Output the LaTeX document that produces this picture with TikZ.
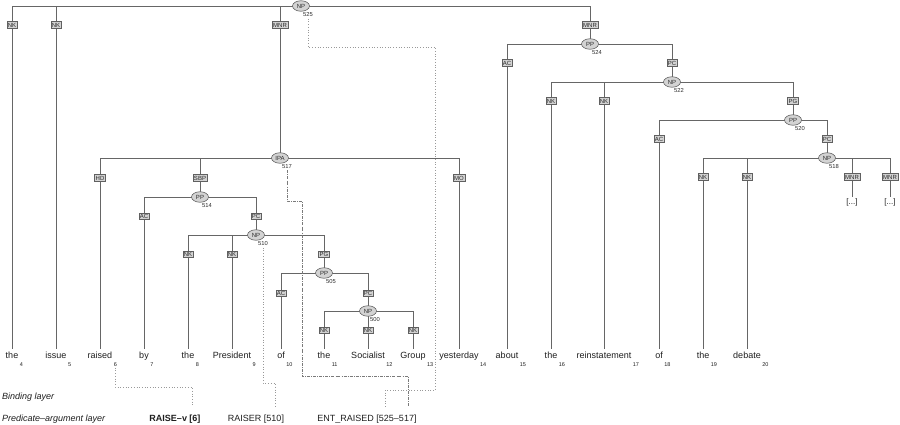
\documentclass[tikz,border=0pt]{standalone}
\usepackage{fontspec}
\setmainfont{Liberation Sans}
\usetikzlibrary{shapes.geometric}
\definecolor{tline}{HTML}{666666}
\definecolor{nfill}{HTML}{D3D3D3}
\definecolor{ndraw}{HTML}{606060}
\definecolor{ntext}{HTML}{2A2A2A}
\definecolor{bindc}{HTML}{999999}
\definecolor{wtext}{HTML}{1E1E1E}
\pgfdeclarelayer{bg}
\pgfsetlayers{bg,main}
\begin{document}
\begin{tikzpicture}[x=1pt,y=-1pt,
  cat/.style={ellipse, draw=ndraw, fill=nfill, line width=0.6pt, minimum width=17pt, minimum height=10.5pt, inner sep=0pt, font=\fontsize{6}{7}\selectfont, text=ntext},
  fnbox/.style={rectangle, draw=ndraw, fill=nfill, line width=0.6pt, inner xsep=1pt, inner ysep=1pt, text height=4.4pt, text depth=0pt, font=\fontsize{6}{7}\selectfont, text=ntext},
  num/.style={font=\fontsize{5.8}{7}\selectfont, inner sep=0pt, text=ntext},
  word/.style={font=\fontsize{9}{10}\selectfont, anchor=base, text height=7pt, text depth=2pt, inner xsep=0.3pt, inner ysep=1.5pt, text=wtext},
  subs/.style={font=\fontsize{5.5}{6}\selectfont, inner sep=0pt, anchor=base west, text=wtext},
  dots/.style={font=\fontsize{8}{9}\selectfont, inner xsep=0pt, inner ysep=1pt, text=wtext},
  layer/.style={font=\fontsize{9}{10}\selectfont\itshape, anchor=west, inner sep=0pt, text=wtext},
  pa/.style={font=\fontsize{9}{10}\selectfont, inner sep=0pt, text=wtext},
  tedge/.style={draw=tline, line width=0.8pt},
  bind/.style={draw=bindc, line width=0.7pt, dotted},
  binddd/.style={draw=bindc!80!black, line width=0.7pt, dash pattern=on 3pt off 1.2pt on 0.7pt off 1.2pt},
]
\useasboundingbox (0,0) rectangle (900,425);

% category nodes
\node[cat] (n525) at (301,6) {NP};
\node[cat] (n517) at (280,158) {IPA};
\node[cat] (n514) at (200,197) {PP};
\node[cat] (n510) at (256,235) {NP};
\node[cat] (n505) at (324,273) {PP};
\node[cat] (n500) at (368,311) {NP};
\node[cat] (n524) at (590,44) {PP};
\node[cat] (n522) at (672,82) {NP};
\node[cat] (n520) at (793,120) {PP};
\node[cat] (n518) at (827,158) {NP};

% id numbers
\node[num] (l525) at (308,14.5) {525};
\node[num] (l517) at (287,166.5) {517};
\node[num] (l514) at (207,205.5) {514};
\node[num] (l510) at (263,243.5) {510};
\node[num] (l505) at (331,281.5) {505};
\node[num] (l500) at (375,319.5) {500};
\node[num] (l524) at (597,52.5) {524};
\node[num] (l522) at (679,90.5) {522};
\node[num] (l520) at (800,128.5) {520};
\node[num] (l518) at (834,166.5) {518};

% function boxes
\node[fnbox] (b1) at (12,25) {NK};
\node[fnbox] (b2) at (56,25) {NK};
\node[fnbox] (b3) at (280,25) {MNR};
\node[fnbox] (b4) at (590,25) {MNR};
\node[fnbox] (b5) at (100,178) {HD};
\node[fnbox] (b6) at (200,178) {SBP};
\node[fnbox] (b7) at (459,178) {MO};
\node[fnbox] (b8) at (144,216) {AC};
\node[fnbox] (b9) at (256,216) {PC};
\node[fnbox] (b10) at (188,254) {NK};
\node[fnbox] (b11) at (232,254) {NK};
\node[fnbox] (b12) at (324,254) {PG};
\node[fnbox] (b13) at (281,293) {AC};
\node[fnbox] (b14) at (368,293) {PC};
\node[fnbox] (b15) at (324,330) {NK};
\node[fnbox] (b16) at (368,330) {NK};
\node[fnbox] (b17) at (413,330) {NK};
\node[fnbox] (b18) at (507,63) {AC};
\node[fnbox] (b19) at (672,63) {PC};
\node[fnbox] (b20) at (551,101) {NK};
\node[fnbox] (b21) at (604,101) {NK};
\node[fnbox] (b22) at (793,101) {PG};
\node[fnbox] (b23) at (659,139) {AC};
\node[fnbox] (b24) at (827,139) {PC};
\node[fnbox] (b25) at (703,177) {NK};
\node[fnbox] (b26) at (747,177) {NK};
\node[fnbox] (b27) at (852,177) {MNR};
\node[fnbox] (b28) at (890,177) {MNR};

% words
\foreach \n/\x/\w in {4/12/the,5/56/issue,6/100/raised,7/144/by,8/188/the,9/232/President,10/281/of,11/324/the,12/368/Socialist,13/413/Group,14/459/yesterday,15/507/about,16/551/the,17/604/reinstatement,18/659/of,19/703/the,20/747/debate}{
  \node[word] (w\n) at (\x,358) {\w};
  \node[subs] (s\n) at ([xshift=0.8pt,yshift=-8.5pt]w\n.base east) {\n};
}
\node[dots] (d1) at (852,202) {[...]};
\node[dots] (d2) at (890,202) {[...]};

% tree edges
\begin{pgfonlayer}{bg}
\foreach \p/\b in {n525/b1,n525/b2,n525/b3,n525/b4,n517/b5,n517/b6,n517/b7,n514/b8,n514/b9,n510/b10,n510/b11,n510/b12,n505/b13,n505/b14,n500/b15,n500/b16,n500/b17,n524/b18,n524/b19,n522/b20,n522/b21,n522/b22,n520/b23,n520/b24,n518/b25,n518/b26,n518/b27,n518/b28}{
  \draw[tedge] (\p.center) -| (\b.center);
}
\foreach \b/\c in {b3/n517,b6/n514,b9/n510,b12/n505,b14/n500,b4/n524,b19/n522,b22/n520,b24/n518}{
  \draw[tedge] (\b.center) -- (\c.center);
}
\foreach \b/\w in {b1/w4,b2/w5,b5/w6,b8/w7,b10/w8,b11/w9,b13/w10,b15/w11,b16/w12,b17/w13,b7/w14,b18/w15,b20/w16,b21/w17,b23/w18,b25/w19,b26/w20,b27/d1,b28/d2}{
  \draw[tedge] (\b.center) -- (\w.north);
}
\end{pgfonlayer}

% layer labels
\node[layer] (bl) at (2,397) {Binding layer};
\node[layer] (pl) at (2,419) {Predicate–argument layer};
\node[pa, font=\fontsize{9}{10}\selectfont\bfseries] (pa1) at (175,419) {RAISE–v [6]};
\node[pa] (pa2) at (256,419) {RAISER [510]};
\node[pa] (pa3) at (367,419) {ENT\_RAISED [525–517]};

% binding connectors
\coordinate (k1) at (192,387);
\coordinate (c1) at (192,407);
\coordinate (k2) at (275,383);
\coordinate (c2) at (275,407);
\coordinate (k3) at (435,47);
\coordinate (k4) at (385,390);
\coordinate (c3) at (385,407);
\coordinate (k5) at (302,201);
\coordinate (k6) at (408,376);
\coordinate (c4) at (408,407);
\draw[bind] ([yshift=-1pt]s6.south) |- (k1) -- (c1);
\draw[bind] ([yshift=-2pt]l510.south) |- (k2) -- (c2);
\draw[bind] ([yshift=-2pt]l525.south) |- (k3) |- (k4) -- (c3);
\draw[binddd] ([yshift=-1.5pt]l517.south) |- (k5) |- (k6) -- (c4);
\end{tikzpicture}
\end{document}
